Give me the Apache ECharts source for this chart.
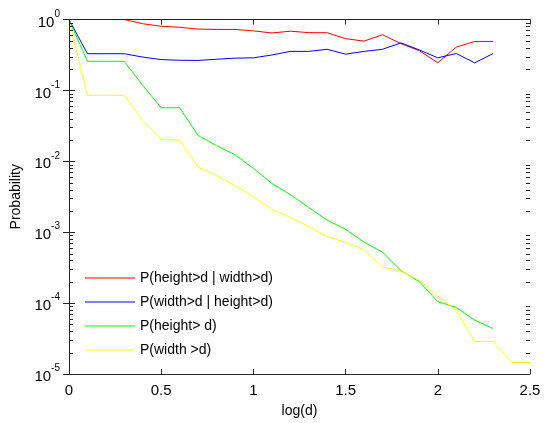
<!DOCTYPE html>
<html>
<head>
<meta charset="utf-8">
<script src="https://cdn.jsdelivr.net/npm/echarts@6/dist/echarts.min.js"></script>
<style>
  html, body { margin: 0; padding: 0; background: #fff; }
  #chart { width: 546px; height: 423px; }
</style>
</head>
<body>
<div id="chart"></div>
<script>
// log10 of the size threshold d
const logD = [0, 0.1, 0.2, 0.3, 0.4, 0.5, 0.6, 0.7, 0.8, 0.9, 1.0, 1.1, 1.2,
              1.3, 1.4, 1.5, 1.6, 1.7, 1.8, 1.9, 2.0, 2.1, 2.2, 2.3, 2.4, 2.5];

// P(height>d | width>d)
const pHeightGivenWidth = [1, 1, 1, 1, 0.871, 0.804, 0.776, 0.733, 0.724, 0.724,
  0.692, 0.646, 0.684, 0.653, 0.650, 0.537, 0.495, 0.610, 0.457, 0.363,
  0.245, 0.407, 0.490, 0.490];

// P(width>d | height>d)
const pWidthGivenHeight = [1, 0.329, 0.329, 0.329, 0.295, 0.272, 0.266, 0.265,
  0.275, 0.285, 0.288, 0.316, 0.355, 0.355, 0.380, 0.324, 0.355, 0.380,
  0.468, 0.372, 0.288, 0.331, 0.245, 0.331];

// P(height> d)
const pHeight = [1, 0.257, 0.257, 0.257, 0.1175, 0.0570, 0.0570, 0.0232,
  0.0166, 0.0124, 0.00794, 0.0049, 0.00339, 0.00224, 0.00148, 0.0011,
  0.000724, 0.000525, 0.000288, 0.0002, 0.000105, 0.0000871, 0.0000575,
  0.0000437];

// P(width >d)
const pWidth = [1, 0.0851, 0.0851, 0.0851, 0.038, 0.0204, 0.02, 0.00832,
  0.00631, 0.00457, 0.00316, 0.00209, 0.00162, 0.0012, 0.00087, 0.000724,
  0.000562, 0.000324, 0.000282, 0.000209, 0.000126, 0.0000794, 0.0000288,
  0.0000288, 0.0000145, 0.0000145];

const seriesNames = ['P(height>d | width>d)', 'P(width>d | height>d)',
                     'P(height> d)', 'P(width >d)'];
const seriesColors = ['#ff0000', '#0000ff', '#00ff00', '#ffff00'];
const seriesValues = [pHeightGivenWidth, pWidthGivenHeight, pHeight, pWidth];

const xTicks = [0, 0.5, 1, 1.5, 2, 2.5];
const yDecades = [-5, -4, -3, -2, -1, 0];

// intermediate log-axis ticks (2..9 x 10^k)
const minorTickValues = [];
for (let k = -5; k < 0; k++) {
  for (let m = 2; m <= 9; m++) minorTickValues.push(m * Math.pow(10, k));
}

const FONT = 'Liberation Sans, Arial, sans-serif';
const AXIS_COLOR = '#262626';

const chart = echarts.init(document.getElementById('chart'), null, { renderer: 'canvas' });

const lineSeries = seriesNames.map((name, i) => ({
  name: name,
  type: 'line',
  xAxisIndex: 0,
  yAxisIndex: 0,
  symbol: 'none',
  silent: true,
  animation: false,
  clip: true,
  lineStyle: { color: seriesColors[i], width: 1 },
  itemStyle: { color: seriesColors[i] },
  data: seriesValues[i].map((v, j) => [logD[j], v]),
  z: 3
}));

const minorTickSeries = {
  type: 'custom',
  xAxisIndex: 0,
  yAxisIndex: 0,
  silent: true,
  animation: false,
  data: minorTickValues.map(v => [0, v]),
  renderItem: function (params, api) {
    const v = api.value(1);
    const l = api.coord([0, v]);
    const r = api.coord([2.5, v]);
    const y = Math.round(l[1]) + 0.5;
    const style = { stroke: AXIS_COLOR, lineWidth: 1 };
    return {
      type: 'group',
      children: [
        { type: 'line', shape: { x1: Math.round(l[0]), y1: y, x2: Math.round(l[0]) + 4, y2: y }, style: style },
        { type: 'line', shape: { x1: Math.round(r[0]) - 4, y1: y, x2: Math.round(r[0]), y2: y }, style: style }
      ]
    };
  },
  z: 4
};

const option = {
  animation: false,
  backgroundColor: '#ffffff',
  grid: { left: 69, right: 16, top: 19.5, bottom: 49, containLabel: false },
  legend: {
    orient: 'vertical',
    left: 80,
    top: 265,
    itemWidth: 50,
    itemHeight: 1,
    itemGap: 8,
    icon: 'rect',
    selectedMode: false,
    data: seriesNames,
    textStyle: { fontFamily: FONT, fontSize: 14, color: '#000', lineHeight: 16 }
  },
  xAxis: [
    {
      type: 'value',
      z: 10,
      min: 0, max: 2.5, interval: 0.5,
      name: 'log(d)',
      nameLocation: 'middle',
      nameGap: 30,
      nameTextStyle: { fontFamily: FONT, fontSize: 14, color: '#000' },
      axisLine: { show: true, lineStyle: { color: AXIS_COLOR, width: 1 } },
      axisTick: { show: true, inside: true, length: 5, lineStyle: { color: AXIS_COLOR } },
      axisLabel: {
        fontFamily: FONT, fontSize: 15, color: '#000', margin: 9,
        formatter: v => (xTicks.indexOf(v) >= 0 ? String(v) : '')
      },
      splitLine: { show: false }
    },
    {
      type: 'value',
      z: 10,
      position: 'top',
      min: 0, max: 2.5, interval: 0.5,
      axisLine: { show: true, lineStyle: { color: AXIS_COLOR, width: 1 } },
      axisTick: { show: true, inside: true, length: 5, lineStyle: { color: AXIS_COLOR } },
      axisLabel: { show: false },
      splitLine: { show: false }
    }
  ],
  yAxis: [
    {
      type: 'log',
      z: 10,
      logBase: 10,
      min: 1e-5, max: 1,
      name: 'Probability',
      nameLocation: 'middle',
      nameGap: 44,
      nameRotate: 90,
      nameTextStyle: { fontFamily: FONT, fontSize: 14, color: '#000' },
      axisLine: { show: true, lineStyle: { color: AXIS_COLOR, width: 1 } },
      axisTick: { show: true, inside: true, length: 6, lineStyle: { color: AXIS_COLOR } },
      axisLabel: {
        margin: 9,
        formatter: function (v) {
          const e = Math.round(Math.log10(v));
          return yDecades.indexOf(e) >= 0 ? '{b|10}{s|' + e + '}' : '';
        },
        rich: {
          b: { fontFamily: FONT, fontSize: 15, color: '#000', padding: [6, 0, 0, 0] },
          s: { fontFamily: FONT, fontSize: 10, color: '#000', verticalAlign: 'top', padding: [0, 0, 6, 0] }
        }
      },
      splitLine: { show: false }
    },
    {
      type: 'log',
      z: 10,
      logBase: 10,
      min: 1e-5, max: 1,
      position: 'right',
      axisLine: { show: true, lineStyle: { color: AXIS_COLOR, width: 1 } },
      axisTick: { show: true, inside: true, length: 6, lineStyle: { color: AXIS_COLOR } },
      axisLabel: { show: false },
      splitLine: { show: false }
    }
  ],
  series: lineSeries.concat([minorTickSeries])
};

chart.setOption(option);
</script>
</body>
</html>
